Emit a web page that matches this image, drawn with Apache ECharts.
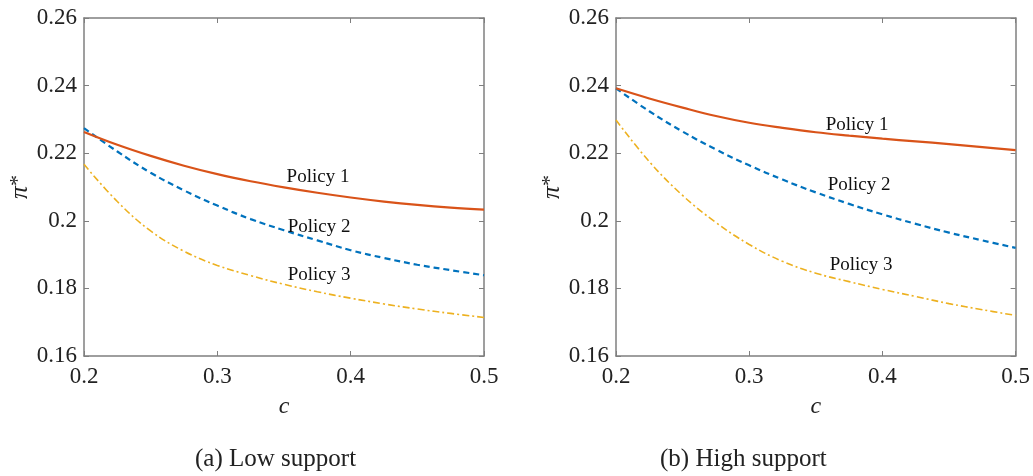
<!DOCTYPE html>
<html>
<head>
<meta charset="utf-8">
<script src="https://cdn.jsdelivr.net/npm/echarts@6/dist/echarts.min.js"></script>
<style>
  html, body { margin: 0; padding: 0; background: #fff; }
  #chart { width: 1033px; height: 476px; }
</style>
</head>
<body>
<div id="chart"></div>
<script>
// c values shared by both panels
var cValues = [0.2, 0.225, 0.25, 0.275, 0.3, 0.325, 0.35, 0.375, 0.4, 0.425, 0.45, 0.475, 0.5];

// (a) Low support
var lowPolicy1 = [0.2263, 0.2225, 0.2192, 0.2163, 0.2138, 0.2117, 0.2099, 0.2083, 0.2069, 0.2057, 0.2047, 0.2039, 0.2033];
var lowPolicy2 = [0.2274, 0.2205, 0.2142, 0.2090, 0.2045, 0.2005, 0.1972, 0.1942, 0.1913, 0.1890, 0.1870, 0.1854, 0.1839];
var lowPolicy3 = [0.2167, 0.2057, 0.1970, 0.1910, 0.1868, 0.1838, 0.1812, 0.1790, 0.1771, 0.1754, 0.1739, 0.1726, 0.1714];

// (b) High support
var highPolicy1 = [0.2392, 0.2362, 0.2335, 0.2310, 0.2290, 0.2275, 0.2262, 0.2252, 0.2243, 0.2235, 0.2227, 0.2218, 0.2209];
var highPolicy2 = [0.2392, 0.2324, 0.2264, 0.2211, 0.2164, 0.2122, 0.2084, 0.2050, 0.2019, 0.1991, 0.1965, 0.1942, 0.1920];
var highPolicy3 = [0.2298, 0.2175, 0.2075, 0.1995, 0.1930, 0.1880, 0.1845, 0.1820, 0.1797, 0.1776, 0.1755, 0.1737, 0.1720];

var policyNames = ['Policy 1', 'Policy 2', 'Policy 3'];
// where the text labels sit, in data units [c, pi]
var lowLabelPos = [[0.3755, 0.2129], [0.3763, 0.1981], [0.3763, 0.1839]];
var highLabelPos = [[0.381, 0.2283], [0.3825, 0.2105], [0.384, 0.1868]];
var captions = ['(a) Low support', '(b) High support'];

var serif = 'Liberation Serif';
var axisGray = '#7f7f7f';
var colors = ['#D95319', '#0072BD', '#EDB120'];
var lineTypes = ['solid', [6, 4], [7, 3, 2, 3]];
var lineWidths = [2.2, 2.2, 1.6];

function pairs(ys) {
    return cValues.map(function (c, i) { return [c, ys[i]]; });
}

function xAxisFor(gridIndex, bottom) {
    return {
        gridIndex: gridIndex,
        type: 'value',
        position: bottom ? 'bottom' : 'top',
        min: 0.2, max: 0.5, interval: 0.1,
        name: bottom ? 'c' : '',
        nameLocation: 'middle',
        nameGap: 39,
        nameTextStyle: { fontFamily: serif, fontStyle: 'italic', fontSize: 24, color: '#222' },
        axisLine: { show: true, lineStyle: { color: axisGray, width: 1.5 } },
        axisTick: { show: true, inside: true, length: 5, lineStyle: { color: axisGray } },
        axisLabel: {
            show: bottom, margin: 9, fontFamily: serif, fontSize: 23, color: '#222',
            formatter: function (v) { return String(+v.toFixed(1)); }
        },
        splitLine: { show: false }
    };
}

function yAxisFor(gridIndex, left) {
    return {
        gridIndex: gridIndex,
        type: 'value',
        position: left ? 'left' : 'right',
        min: 0.16, max: 0.26, interval: 0.02,
        name: left ? '{i|π}{s|*}' : '',
        nameLocation: 'middle',
        nameRotate: 90,
        nameGap: 48,
        nameTextStyle: {
            rich: {
                i: { fontFamily: serif, fontStyle: 'italic', fontSize: 26, color: '#222' },
                s: { fontFamily: serif, fontSize: 22, color: '#222', verticalAlign: 'top' }
            }
        },
        axisLine: { show: true, lineStyle: { color: axisGray, width: 1.5 } },
        axisTick: { show: true, inside: true, length: 5, lineStyle: { color: axisGray } },
        axisLabel: {
            show: left, margin: 7, fontFamily: serif, fontSize: 23, color: '#222',
            formatter: function (v) { return String(+v.toFixed(2)); }
        },
        splitLine: { show: false }
    };
}

function policySeries(gridIndex, data, labelPos) {
    return data.map(function (ys, k) {
        return {
            name: policyNames[k],
            type: 'line',
            xAxisIndex: gridIndex * 2,
            yAxisIndex: gridIndex * 2,
            data: pairs(ys),
            smooth: 0.4,
            showSymbol: false,
            lineStyle: { color: colors[k], width: lineWidths[k], type: lineTypes[k] },
            z: 3 - k,
            markPoint: {
                symbol: 'circle',
                symbolSize: 0,
                silent: true,
                data: [{ coord: labelPos[k], value: policyNames[k] }],
                label: {
                    show: true, position: 'inside', formatter: policyNames[k],
                    fontFamily: serif, fontSize: 19, color: '#111'
                }
            }
        };
    });
}

var chart = echarts.init(document.getElementById('chart'));

var option = {
    backgroundColor: '#fff',
    animation: false,
    grid: [
        { left: 84, right: 549, top: 18, bottom: 120 },
        { left: 616, right: 16, top: 18, bottom: 120 }
    ],
    xAxis: [xAxisFor(0, true), xAxisFor(0, false), xAxisFor(1, true), xAxisFor(1, false)],
    yAxis: [yAxisFor(0, true), yAxisFor(0, false), yAxisFor(1, true), yAxisFor(1, false)],
    series: policySeries(0, [lowPolicy1, lowPolicy2, lowPolicy3], lowLabelPos)
        .concat(policySeries(1, [highPolicy1, highPolicy2, highPolicy3], highLabelPos)),
    graphic: [
        {
            type: 'text', left: 195, top: 447,
            style: { text: captions[0], font: '25px "Liberation Serif"', fill: '#222' }
        },
        {
            type: 'text', left: 660, top: 447,
            style: { text: captions[1], font: '25px "Liberation Serif"', fill: '#222' }
        }
    ]
};

chart.setOption(option);
</script>
</body>
</html>
